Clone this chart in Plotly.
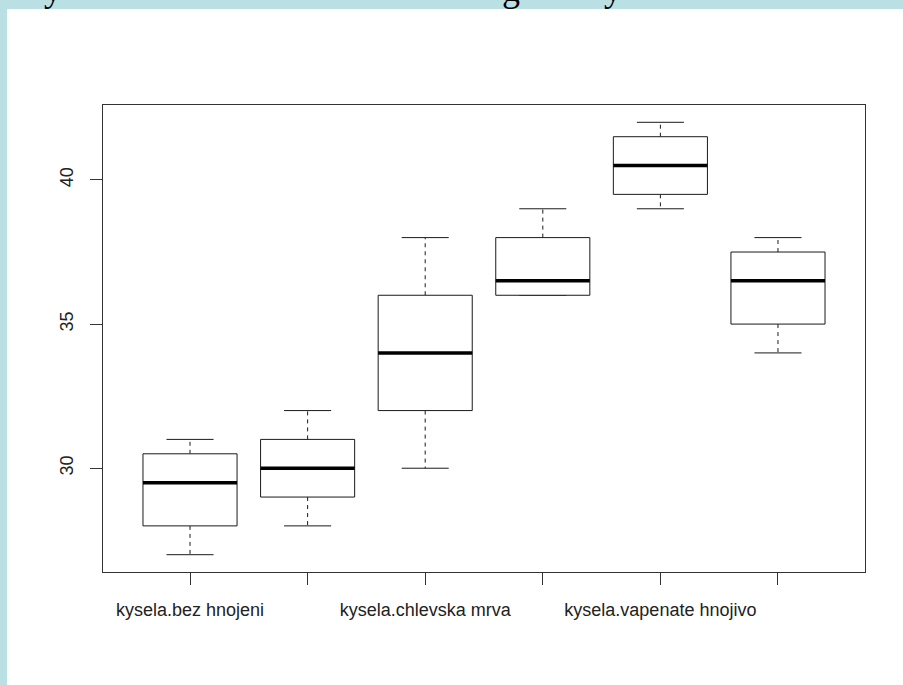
import plotly.graph_objects as go

# ---- data ----
groups = [1, 2, 3, 4, 5, 6]
tick_labels = ["kysela.bez hnojeni", "", "kysela.chlevska mrva", "",
               "kysela.vapenate hnojivo", ""]
w_low = [27, 28, 30, 36, 39, 34]
q1 = [28, 29, 32, 36, 39.5, 35]
median = [29.5, 30, 34, 36.5, 40.5, 36.5]
q3 = [30.5, 31, 36, 38, 41.5, 37.5]
w_high = [31, 32, 38, 39, 42, 38]

BOXW = 0.4      # half box width (R boxwex 0.8)
CAPW = 0.2      # half staple width
LINE = "#1a1a1a"

box_x, box_y = [], []
med_x, med_y = [], []
wh_x, wh_y = [], []
cap_x, cap_y = [], []
for g, lo, a, m, b, hi in zip(groups, w_low, q1, median, q3, w_high):
    box_x += [g - BOXW, g + BOXW, g + BOXW, g - BOXW, g - BOXW, None]
    box_y += [a, a, b, b, a, None]
    med_x += [g - BOXW, g + BOXW, None]
    med_y += [m, m, None]
    wh_x += [g, g, None, g, g, None]
    wh_y += [b, hi, None, a, lo, None]
    cap_x += [g - CAPW, g + CAPW, None, g - CAPW, g + CAPW, None]
    cap_y += [hi, hi, None, lo, lo, None]

fig = go.Figure()
fig.add_trace(go.Scatter(x=wh_x, y=wh_y, mode="lines",
                         line=dict(color=LINE, width=1, dash="4px,4px"),
                         hoverinfo="skip", showlegend=False))
fig.add_trace(go.Scatter(x=cap_x, y=cap_y, mode="lines",
                         line=dict(color=LINE, width=1),
                         hoverinfo="skip", showlegend=False))
fig.add_trace(go.Scatter(x=box_x, y=box_y, mode="lines",
                         line=dict(color=LINE, width=1),
                         fill="toself", fillcolor="white",
                         hoverinfo="skip", showlegend=False))
fig.add_trace(go.Scatter(x=med_x, y=med_y, mode="lines",
                         line=dict(color="black", width=3.5),
                         hoverinfo="skip", showlegend=False))

W, H = 903, 685
L, R, T, B = 103, 38, 105, 113
pw, ph = W - L - R, H - T - B

def px(xp):
    return (xp - L) / pw

def py(yp):
    return (H - B - yp) / ph

BLUE = "#BBE0E3"
shapes = [
    dict(type="rect", xref="paper", yref="paper", x0=px(-5), x1=px(7),
         y0=py(H + 5), y1=py(-5), fillcolor=BLUE, line=dict(width=0)),
    dict(type="rect", xref="paper", yref="paper", x0=px(-5), x1=px(W + 5),
         y0=py(9), y1=py(-5), fillcolor=BLUE, line=dict(width=0)),
]

annotations = []
for ch, cx in [("y", 53), ("g", 511), ("y", 613)]:
    annotations.append(dict(text=ch, xref="paper", yref="paper",
                            x=px(cx), y=py(11), xanchor="center",
                            yanchor="bottom", showarrow=False,
                            font=dict(family="Liberation Serif", size=36,
                                      color="black")))

fig.update_layout(
    width=W, height=H, autosize=False,
    margin=dict(l=L, r=R, t=T, b=B, pad=0),
    paper_bgcolor="white", plot_bgcolor="white",
    font=dict(family="Liberation Sans, Arial, sans-serif", color="#222"),
    shapes=shapes, annotations=annotations,
    xaxis=dict(range=[0.26, 6.74], tickmode="array", tickvals=groups,
               ticktext=tick_labels, showgrid=False, zeroline=False,
               showline=True, linecolor="#333", linewidth=1, mirror=True,
               ticks="outside", ticklen=12, tickwidth=1, tickcolor="#333",
               tickfont=dict(size=18, color="#222"), ticklabelstandoff=9),
    yaxis=dict(range=[26.4, 42.6], tickmode="array", tickvals=[30, 35, 40],
               showgrid=False, zeroline=False,
               showline=True, linecolor="#333", linewidth=1, mirror=True,
               ticks="outside", ticklen=12, tickwidth=1, tickcolor="#333",
               tickangle=-90, tickfont=dict(size=18, color="#222"),
               ticklabelstandoff=10),
)

fig.write_html("out.html",
               config={"displayModeBar": False},
               post_script="document.body.style.margin='0';"
                           "document.body.style.overflow='hidden';")
